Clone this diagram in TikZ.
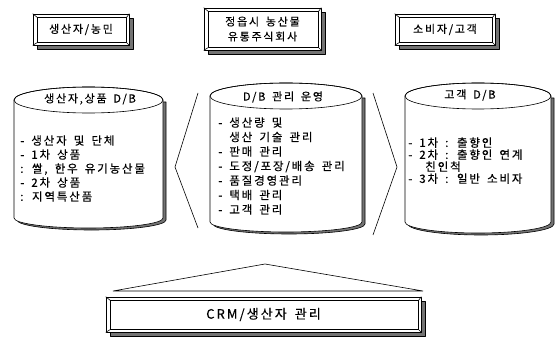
\documentclass[tikz,border=0pt]{standalone}
\usepackage{fontspec}
\setmainfont{Noto Sans CJK KR}[LetterSpace=16,WordSpace=1.6,FakeBold=0.4]
\usetikzlibrary{calc,shadows}

\newcommand\bevelin[1]{%
  \draw ($(#1.north west)+(5,4)$) rectangle ($(#1.south east)+(-3,-3)$);
  \draw (#1.north west) -- ($(#1.north west)+(5,4)$)
        (#1.south west) -- ($(#1.south west)+(5,-3)$)
        (#1.north east) -- ($(#1.north east)+(-3,4)$)
        (#1.south east) -- ($(#1.south east)+(-3,-3)$);
}
% x1, x2, y of top ellipse centre, top radius, y of side bottom, bottom radius
\newcommand\drawcyl[6]{%
  \path[cylshadow, shift={(3,2)}] (#1,#3) -- (#1,#5)
     arc[start angle=180, end angle=0, x radius={(#2-#1)/2}, y radius=#6]
     -- (#2,#3) -- cycle;
  \path[cylbody] (#1,#3) -- (#1,#5)
     arc[start angle=180, end angle=0, x radius={(#2-#1)/2}, y radius=#6]
     -- (#2,#3)
     arc[start angle=0, end angle=-180, x radius={(#2-#1)/2}, y radius=#4] -- cycle;
  \draw ({(#1+#2)/2},#3) ellipse [x radius={(#2-#1)/2}, y radius=#4];
}

\begin{document}
\begin{tikzpicture}[x=1pt, y=-1pt, line width=0.6pt, line join=round,
  bevel/.style={draw, fill=white, rectangle, inner sep=0pt,
    copy shadow={shadow xshift=4pt, shadow yshift=-4pt, fill=black!55, draw=black},
    font=\fontsize{11}{15}\selectfont, align=center},
  cylbody/.style={draw, fill=white},
  cylshadow/.style={draw, fill=black!55},
  title/.style={font=\fontsize{11}{12}\selectfont, inner sep=0pt},
  list/.style={font=\fontsize{11.5}{#1}\selectfont, align=left, anchor=north west, inner sep=0pt},
  chev/.style={draw, line join=miter}
]
\useasboundingbox (0,0) rectangle (557,342);

% top boxes
\node[bevel, minimum width=96, minimum height=31] (prod) at (81,29.5) {생산자/농민};
\bevelin{prod}
\node[bevel, minimum width=117, minimum height=42] (corp) at (262.5,29) {정읍시 농산물\\유통주식회사};
\bevelin{corp}
\node[bevel, minimum width=100, minimum height=31] (cons) at (445,29.5) {소비자/고객};
\bevelin{cons}

% cylinders
\drawcyl{14}{163}{100}{13}{218}{10}
\drawcyl{210}{362}{96}{13}{222}{10}
\drawcyl{405}{551}{96}{13}{222}{11}

\node[title] (t1) at (90,99) {생산자,상품 D/B};
\node[list=14] (l1) at (20,135) {- 생산자 및 단체\\- 1차 상품\\ : 쌀, 한우 유기농산물\\- 2차 상품\\ : 지역특산품};

\node[title] (t2) at (283,97) {D/B 관리 운영};
\node[list=14.5] (l2) at (218,117) {- 생산량 및\\\phantom{- }생산 기술 관리\\- 판매 관리\\- 도정/포장/배송 관리\\- 품질경영관리\\- 택배 관리\\- 고객 관리};

\node[title] (t3) at (470,95) {고객 D/B};
\node[list=12] (l3) at (408,137) {- 1차 : 출향인\\- 2차 : 출향인 연계\\\hspace{17pt}친인척\\- 3차 : 일반 소비자};

% chevrons
\coordinate (la) at (198,93);
\coordinate (lb) at (175,167);
\coordinate (lc) at (198,228);
\draw[chev] (la) -- (lb) -- (lc);
\coordinate (ra) at (373,93);
\coordinate (rb) at (397,167);
\coordinate (rc) at (373,235);
\draw[chev] (ra) -- (rb) -- (rc);
\coordinate (ba) at (113,291);
\coordinate (bb) at (265,264);
\coordinate (bc) at (423,291);
\draw[chev] (ba) -- (bb) -- (bc) -- cycle;

% bottom box
\node[bevel, minimum width=315, minimum height=35, font=\fontsize{13}{15}\selectfont] (crm) at (263.5,314.5) {CRM/생산자 관리};
\bevelin{crm}
\end{tikzpicture}
\end{document}
